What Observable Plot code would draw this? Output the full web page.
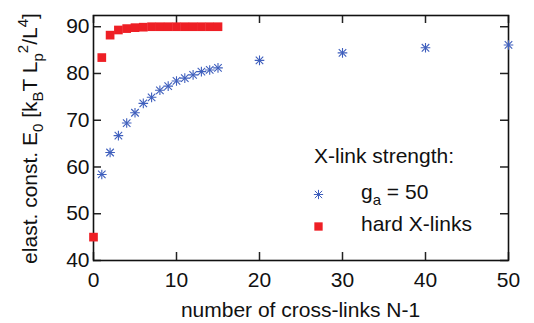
<!DOCTYPE html>
<html>
<head>
<meta charset="utf-8">
<script src="https://cdn.jsdelivr.net/npm/d3@7"></script>
<script src="https://cdn.jsdelivr.net/npm/@observablehq/plot@0.6"></script>
<style>
  html, body { margin: 0; padding: 0; background: #fff; }
</style>
</head>
<body>
<div id="chart"></div>
<script>
// ---- data ----
const hardX = [0, 1, 2, 3, 4, 5, 6, 7, 8, 9, 10, 11, 12, 13, 14, 15];
const hardY = [45, 83.4, 88.2, 89.3, 89.6, 89.8, 89.9, 90, 90, 90, 90, 90, 90, 90, 90, 90];
const softX = [1, 2, 3, 4, 5, 6, 7, 8, 9, 10, 11, 12, 13, 14, 15, 20, 30, 40, 50];
const softY = [58.4, 63.1, 66.7, 69.4, 71.6, 73.6, 74.9, 76.4, 77.3, 78.4, 79.0, 79.7, 80.4, 80.75, 81.2, 82.8, 84.4, 85.5, 86.1];
const xTicks = [0, 10, 20, 30, 40, 50];
const yTicks = [40, 50, 60, 70, 80, 90];
const legendTitle = "X-link strength:";
const legendSoft = [{t: "g"}, {t: "a", sub: true}, {t: " = 50"}];
const legendHard = [{t: "hard X-links"}];
const xLabel = "number of cross-links N-1";
const yLabel = [
  {t: "elast. const. E"}, {t: "0", sub: true}, {t: " [k"}, {t: "B", sub: true},
  {t: "T L"}, {t: "p", sub: true}, {t: "2", sup: true}, {t: "/L"}, {t: "4", sup: true}, {t: "]"}
];

const hard = hardX.map((x, i) => ({x, y: hardY[i]}));
const soft = softX.map((x, i) => ({x, y: softY[i]}));

const W = 534, H = 323;
const mL = 93, mR = 26, mT = 15, mB = 63;
const fw = W - mL - mR, fh = H - mT - mB;
const tickLen = 8;
const red = "#ee1f25";
const blue = "#3f5fbd";
const FS = 21;

const chart = Plot.plot({
  width: W, height: H,
  marginLeft: mL, marginRight: mR, marginTop: mT, marginBottom: mB,
  style: {fontFamily: "'Liberation Sans', Arial, sans-serif", fontSize: FS + "px", background: "#fff", color: "#111"},
  x: {domain: [0, 50], ticks: xTicks},
  y: {domain: [40, 92.4], ticks: yTicks},
  marks: [
    // inward ticks (left, right, bottom, top)
    Plot.ruleY(yTicks, {y: d => d, insetRight: fw - tickLen, stroke: "#222", strokeWidth: 1.5}),
    Plot.ruleY(yTicks, {y: d => d, insetLeft: fw - tickLen, stroke: "#222", strokeWidth: 1.5}),
    Plot.ruleX(xTicks, {x: d => d, insetTop: fh - tickLen, stroke: "#222", strokeWidth: 1.5}),
    Plot.ruleX(xTicks, {x: d => d, insetBottom: fh - tickLen, stroke: "#222", strokeWidth: 1.5}),
    Plot.frame({stroke: "#111", strokeWidth: 1.6}),
    Plot.axisX({ticks: xTicks, tickSize: 0, tickPadding: 12, label: null}),
    Plot.axisY({ticks: yTicks, tickSize: 0, tickPadding: 4, label: null}),
    // g_a = 50 series (gnuplot-like star = plus + times)
    Plot.dot(soft, {x: "x", y: "y", symbol: "plus", r: 3.2, stroke: blue, strokeWidth: 1.1}),
    Plot.dot(soft, {x: "x", y: "y", symbol: "times", r: 3.5, stroke: blue, strokeWidth: 1.1}),
    // hard X-links
    Plot.dot(hard, {x: "x", y: "y", symbol: "square", r: 4.9, fill: red, stroke: "none"}),
    // legend symbols
    Plot.dot([0], {frameAnchor: "top-left", dx: 225, dy: 179, symbol: "plus", r: 3.1, stroke: blue, strokeWidth: 1}),
    Plot.dot([0], {frameAnchor: "top-left", dx: 225, dy: 179, symbol: "times", r: 3.4, stroke: blue, strokeWidth: 1}),
    Plot.dot([0], {frameAnchor: "top-left", dx: 225, dy: 211, symbol: "square", r: 4.7, fill: red, stroke: "none"})
  ]
});

document.getElementById("chart").appendChild(chart);

// rich text (sub/superscripts) for labels and legend
const svg = d3.select(chart);
function rich(parent, segs, attrs) {
  const t = parent.append("text").attr("text-anchor", "start");
  for (const [k, v] of Object.entries(attrs)) t.attr(k, v);
  t.attr("fill", "#111").attr("font-size", FS);
  let shift = 0;
  for (const s of segs) {
    const target = s.sub ? 6 : s.sup ? -9 : 0;
    const ts = t.append("tspan").text(s.t).attr("dy", target - shift);
    if (s.sub || s.sup) ts.attr("font-size", 15);
    shift = target;
  }
  return t;
}
rich(svg, [{t: xLabel}], {x: mL + fw / 2, y: 317, "text-anchor": "middle"});
rich(svg, yLabel, {transform: `translate(37,${mT + fh / 2 + 1}) rotate(-90)`, "text-anchor": "middle"});
rich(svg, [{t: legendTitle}], {x: 314, y: 163});
rich(svg, legendSoft, {x: 361, y: 199});
rich(svg, legendHard, {x: 361, y: 231});
</script>
</body>
</html>
